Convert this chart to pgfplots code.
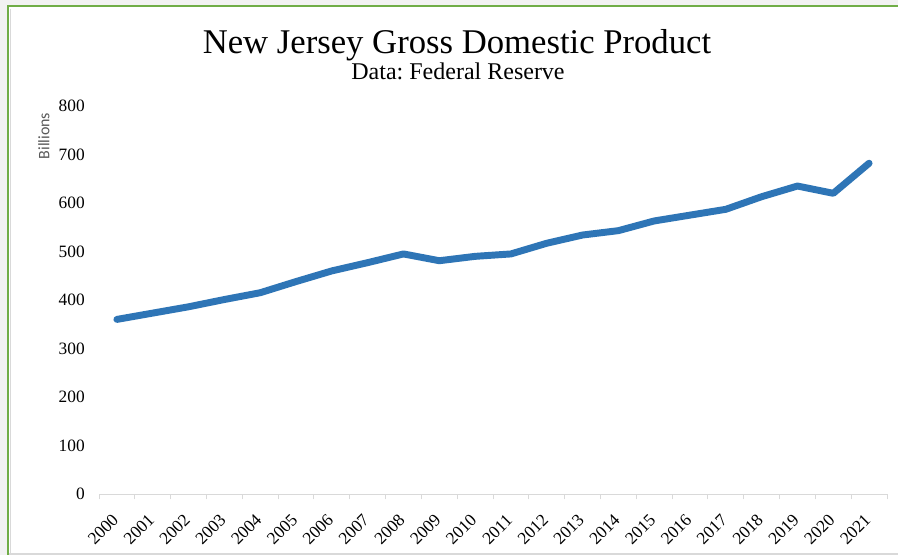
\documentclass[border=0pt]{standalone}
\usepackage{pgfplots}
\pgfplotsset{compat=1.18}
\usepackage{fontspec}
\setmainfont{Liberation Serif}
\newfontfamily\carlito{Carlito}
\frenchspacing
\definecolor{lineblue}{RGB}{46,117,182}
\definecolor{framegreen}{RGB}{112,173,71}
\definecolor{outgrey}{RGB}{242,242,242}
\definecolor{axgrey}{RGB}{217,217,217}
\definecolor{labgrey}{RGB}{89,89,89}
\begin{document}
\begin{tikzpicture}
\begin{scope}[x=0.75pt,y=-0.75pt]
\fill[outgrey] (0,0) rectangle (898,555);
\fill[white] (9,7) rectangle (898,553);
\draw[axgrey,line width=1.2] (10.5,9) -- (10.5,553);
\draw[framegreen,line width=1.6] (8.3,555) -- (8.3,6.3) -- (898,6.3);
\draw[axgrey,line width=1.2] (9,553.8) -- (898,553.8);
\node[anchor=base,font=\fontsize{26}{26}\selectfont] at (457,54) {New Jersey Gross Domestic Product};
\node[anchor=base,font=\fontsize{18}{18}\selectfont] at (458,80) {Data: Federal Reserve};
\node[rotate=90,font=\carlito\fontsize{12}{12}\selectfont,text=labgrey] at (44,136) {Billions};
\end{scope}
\begin{axis}[
  at={(74.25pt,-370.5pt)}, anchor=south west,
  scale only axis, width=591pt, height=291pt,
  xmin=-0.5, xmax=21.5, ymin=0, ymax=800,
  axis x line*=bottom, axis y line*=left,
  x axis line style={axgrey,line width=0.75pt},
  y axis line style={draw=none},
  xtick={0,...,21},
  xticklabels={2000,2001,2002,2003,2004,2005,2006,2007,2008,2009,2010,2011,2012,2013,2014,2015,2016,2017,2018,2019,2020,2021},
  minor xtick={-0.5,0.5,...,21.5},
  major tick length=0pt, minor tick length=4pt,
  tick align=outside,
  minor tick style={axgrey,line width=0.75pt},
  major tick style={draw=none},
  ytick={0,100,...,800},
  /pgf/number format/assume math mode=true,
  ticklabel style={font=\fontsize{13}{13}\selectfont},
  yticklabel style={anchor=east,inner sep=0pt,xshift=-10.5pt},
  xticklabel style={rotate=45,anchor=east,inner sep=0pt,xshift=-13pt,yshift=-11.5pt},
  clip=false,
]
\addplot[lineblue,line width=5.2pt,line cap=round,line join=round] coordinates {
(0,360) (1,373) (2,386) (3,401) (4,415) (5,438) (6,460) (7,477) (8,495) (9,481)
(10,490) (11,495) (12,517) (13,534) (14,543) (15,563) (16,575) (17,587) (18,613)
(19,635) (20,620) (21,682)
};
\end{axis}
\begin{scope}[x=0.75pt,y=-0.75pt]
\pgfresetboundingbox
\useasboundingbox (0,0) rectangle (898,555);
\end{scope}
\end{tikzpicture}
\end{document}
